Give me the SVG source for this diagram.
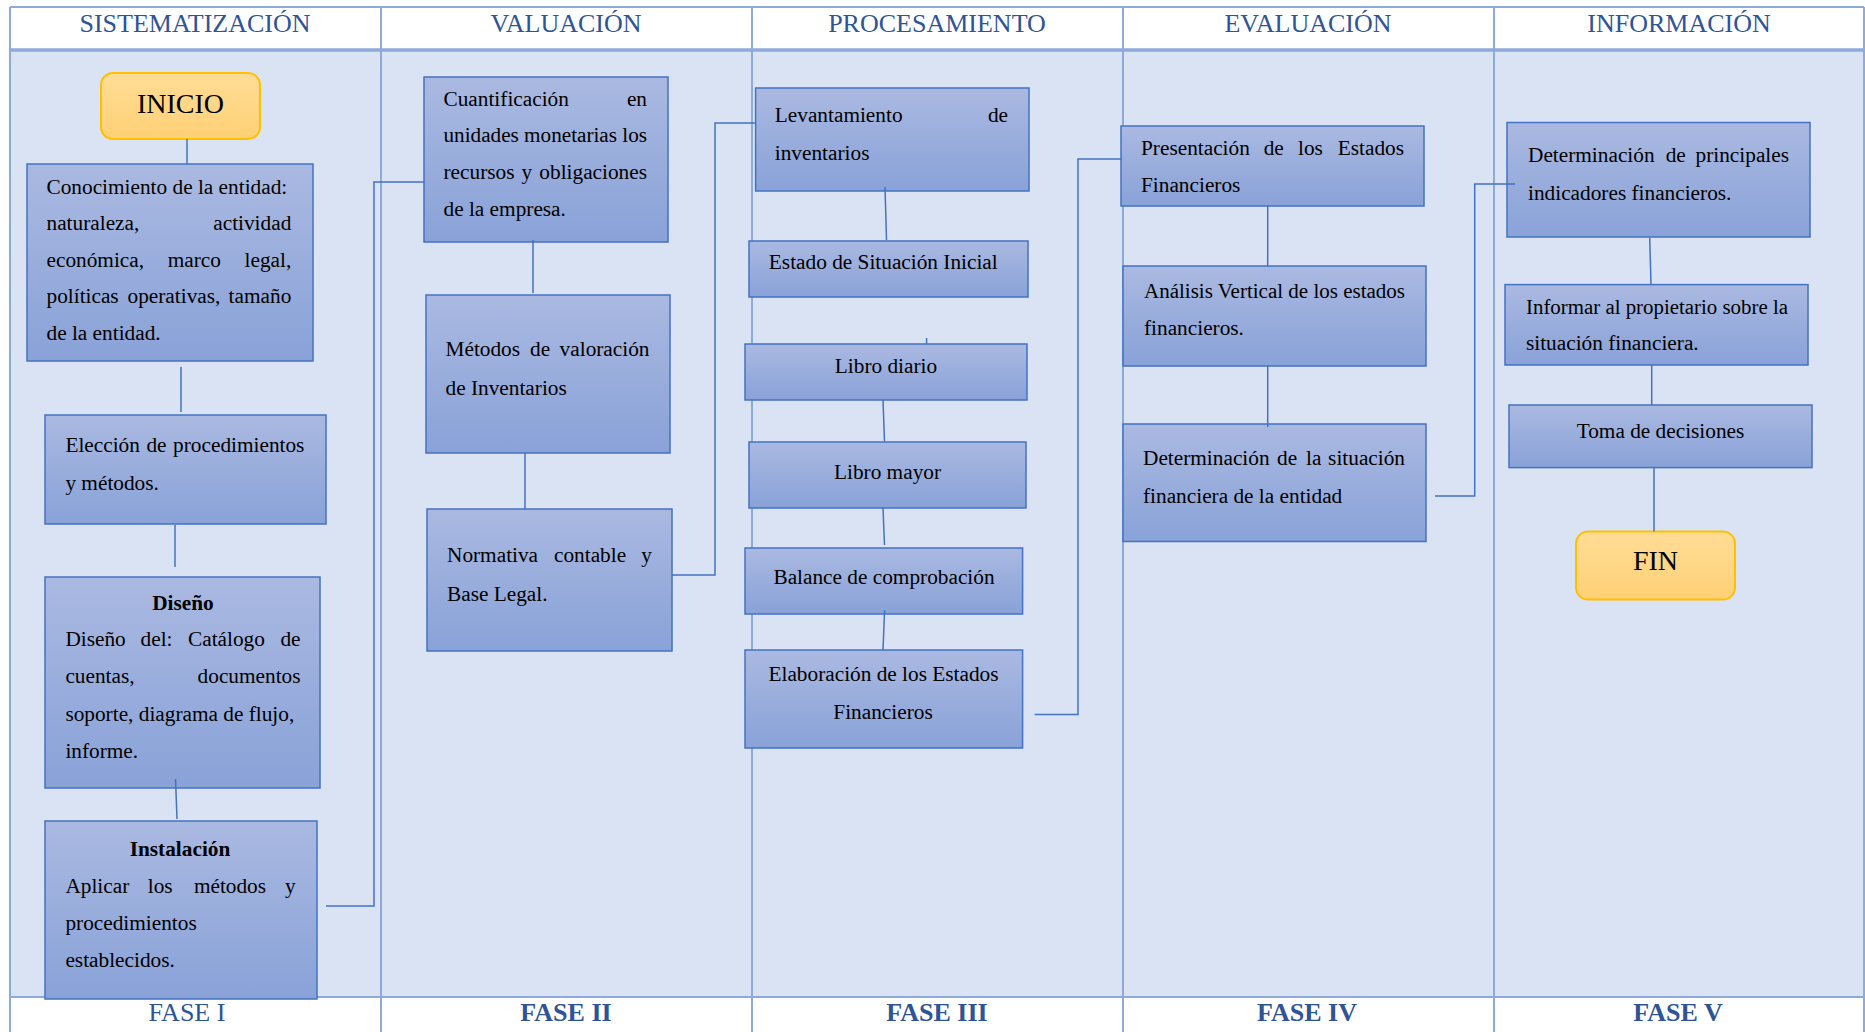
<svg xmlns="http://www.w3.org/2000/svg" width="1865" height="1032" viewBox="0 0 1865 1032">
<defs>
<linearGradient id="gb" x1="0" y1="0" x2="0" y2="1">
<stop offset="0" stop-color="#AAB9E1"/>
<stop offset="1" stop-color="#89A2D8"/>
</linearGradient>
<linearGradient id="gy" x1="0" y1="0" x2="0" y2="1">
<stop offset="0" stop-color="#FFDC96"/>
<stop offset="1" stop-color="#FFD175"/>
</linearGradient>
<style>
.grid{stroke:#8EAADB;stroke-width:2;fill:none}
.hd{font-family:"Liberation Serif","Times New Roman",serif;font-size:26px;fill:#2F5496;text-anchor:middle}
.ft{font-family:"Liberation Serif","Times New Roman",serif;font-size:26px;fill:#2F5496;text-anchor:middle;font-weight:bold}
.box{fill:url(#gb);stroke:#4472C4;stroke-width:1.5}
.term{fill:url(#gy);stroke:#FFC000;stroke-width:2}
.t{font-family:"Liberation Serif","Times New Roman",serif;font-size:21.3px;fill:#000}
.e{text-anchor:end}
.m{text-anchor:middle}
.b{font-weight:bold}
.big{font-family:"Liberation Serif","Times New Roman",serif;font-size:28px;fill:#000;text-anchor:middle}
.c{stroke:#4472C4;stroke-width:1.5;fill:none}
</style>
</defs>
<rect width="1865" height="1032" fill="#FFFFFF"/>
<g id="table">
<rect x="10" y="50" width="1854" height="947" fill="#DAE3F3"/>
<path class="grid" d="M10,7 H1864 M10,7 V1032 M1864,7 V1032 M381,7 V1032 M752,7 V1032 M1123,7 V1032 M1494,7 V1032 M10,997 H1864"/>
<path d="M10,50 H1864" stroke="#8EAADB" stroke-width="3.5"/>
<text class="hd" x="195" y="32">SISTEMATIZACIÓN</text>
<text class="hd" x="566" y="32">VALUACIÓN</text>
<text class="hd" x="937" y="32">PROCESAMIENTO</text>
<text class="hd" x="1308" y="32">EVALUACIÓN</text>
<text class="hd" x="1679" y="32">INFORMACIÓN</text>
<text class="hd" x="187" y="1021">FASE I</text>
<text class="ft" x="566" y="1021">FASE II</text>
<text class="ft" x="937" y="1021">FASE III</text>
<text class="ft" x="1307" y="1021">FASE IV</text>
<text class="ft" x="1678" y="1021">FASE V</text>
</g>
<g id="n-inicio">
<rect class="term" x="101" y="73" width="159" height="66" rx="12"/>
<text class="big" x="180.5" y="113">INICIO</text>
</g>
<g id="n-conocimiento">
<rect class="box" x="27" y="164" width="286" height="197"/>
<text class="t" x="46.5" y="194">Conocimiento de la entidad:</text>
<text class="t" x="46.5" y="230">naturaleza,</text><text class="t e" x="291.3" y="230">actividad</text>
<text class="t" x="46.5" y="267">económica,</text><text class="t" x="167.7" y="267">marco</text><text class="t e" x="291.3" y="267">legal,</text>
<text class="t" x="46.5" y="303">políticas</text><text class="t" x="127.5" y="303">operativas,</text><text class="t e" x="291.3" y="303">tamaño</text>
<text class="t" x="46.5" y="340">de la entidad.</text>
</g>
<g id="n-eleccion">
<rect class="box" x="45" y="415" width="281" height="109"/>
<text class="t" x="65.4" y="452.4">Elección</text><text class="t" x="146.4" y="452.4">de</text><text class="t e" x="304.4" y="452.4">procedimientos</text>
<text class="t" x="65.4" y="489.5">y métodos.</text>
</g>
<g id="n-diseno">
<rect class="box" x="45" y="577" width="275" height="211"/>
<text class="t b m" x="183" y="610">Diseño</text>
<text class="t" x="65.4" y="646">Diseño</text><text class="t" x="140.6" y="646">del:</text><text class="t" x="188" y="646">Catálogo</text><text class="t e" x="300.5" y="646">de</text>
<text class="t" x="65.4" y="682.5">cuentas,</text><text class="t e" x="300.5" y="682.5">documentos</text>
<text class="t" x="65.4" y="720.5">soporte, diagrama de flujo,</text>
<text class="t" x="65.4" y="757.5">informe.</text>
</g>
<g id="n-instalacion">
<rect class="box" x="45" y="821" width="272" height="178"/>
<text class="t b m" x="180" y="856">Instalación</text>
<text class="t" x="65.4" y="893">Aplicar</text><text class="t" x="147.8" y="893">los</text><text class="t" x="193.9" y="893">métodos</text><text class="t e" x="295.7" y="893">y</text>
<text class="t" x="65.4" y="929.5">procedimientos</text>
<text class="t" x="65.4" y="966.5">establecidos.</text>
</g>
<g id="n-cuantificacion">
<rect class="box" x="424" y="77" width="244" height="165"/>
<text class="t" x="443.5" y="106">Cuantificación</text><text class="t e" x="647" y="106">en</text>
<text class="t" x="443.5" y="141.7" textLength="203.5" lengthAdjust="spacingAndGlyphs">unidades monetarias los</text>
<text class="t" x="443.5" y="178.5">recursos</text><text class="t" x="521.6" y="178.5">y</text><text class="t e" x="647" y="178.5">obligaciones</text>
<text class="t" x="443.5" y="215.5">de la empresa.</text>
</g>
<g id="n-metodos">
<rect class="box" x="426" y="295" width="244" height="158"/>
<text class="t" x="445.5" y="356">Métodos</text><text class="t" x="530" y="356">de</text><text class="t e" x="649.5" y="356">valoración</text>
<text class="t" x="445.5" y="395">de Inventarios</text>
</g>
<g id="n-normativa">
<rect class="box" x="427" y="509" width="245" height="142"/>
<text class="t" x="447" y="561.5">Normativa</text><text class="t" x="554" y="561.5">contable</text><text class="t e" x="652" y="561.5">y</text>
<text class="t" x="447" y="600.5">Base Legal.</text>
</g>
<g id="n-levantamiento">
<rect class="box" x="755.6" y="88" width="273.4" height="103"/>
<text class="t" x="774.8" y="122">Levantamiento</text><text class="t e" x="1008" y="122">de</text>
<text class="t" x="774.8" y="160">inventarios</text>
</g>
<g id="n-estado">
<rect class="box" x="749" y="241" width="279" height="56"/>
<text class="t m" x="883.3" y="268.5">Estado de Situación Inicial</text>
</g>
<g id="n-diario">
<rect class="box" x="745" y="344" width="282" height="56"/>
<text class="t m" x="886" y="373">Libro diario</text>
</g>
<g id="n-mayor">
<rect class="box" x="749" y="442" width="277" height="66"/>
<text class="t m" x="887.5" y="478.5">Libro mayor</text>
</g>
<g id="n-balance">
<rect class="box" x="745" y="548" width="277.6" height="66"/>
<text class="t m" x="884" y="583.5">Balance de comprobación</text>
</g>
<g id="n-elaboracion">
<rect class="box" x="745" y="650" width="277.6" height="98"/>
<text class="t m" x="883.5" y="681">Elaboración de los Estados</text>
<text class="t m" x="883" y="718.5">Financieros</text>
</g>
<g id="n-presentacion">
<rect class="box" x="1121" y="126" width="303" height="80"/>
<text class="t" x="1141" y="155">Presentación</text><text class="t" x="1263.7" y="155">de</text><text class="t" x="1298" y="155">los</text><text class="t e" x="1404" y="155">Estados</text>
<text class="t" x="1141" y="192">Financieros</text>
</g>
<g id="n-analisis">
<rect class="box" x="1123" y="266" width="303" height="100"/>
<text class="t" x="1144" y="298" textLength="261" lengthAdjust="spacingAndGlyphs">Análisis Vertical de los estados</text>
<text class="t" x="1144" y="335">financieros.</text>
</g>
<g id="n-determinacion">
<rect class="box" x="1123" y="424" width="303" height="117.5"/>
<text class="t" x="1143" y="464.5">Determinación</text><text class="t" x="1277" y="464.5">de</text><text class="t" x="1306" y="464.5">la</text><text class="t e" x="1405" y="464.5">situación</text>
<text class="t" x="1143" y="503">financiera de la entidad</text>
</g>
<g id="n-indicadores">
<rect class="box" x="1507" y="122.5" width="303" height="114.5"/>
<text class="t" x="1528" y="162">Determinación</text><text class="t" x="1665.7" y="162">de</text><text class="t e" x="1789" y="162">principales</text>
<text class="t" x="1528" y="199.5">indicadores financieros.</text>
</g>
<g id="n-informar">
<rect class="box" x="1505" y="284.6" width="303" height="80.4"/>
<text class="t" x="1526" y="314" textLength="262" lengthAdjust="spacingAndGlyphs">Informar al propietario sobre la</text>
<text class="t" x="1526" y="350">situación financiera.</text>
</g>
<g id="n-toma">
<rect class="box" x="1509" y="405" width="303" height="62.6"/>
<text class="t m" x="1660.5" y="437.5">Toma de decisiones</text>
</g>
<g id="n-fin">
<rect class="term" x="1576" y="531.6" width="159" height="68" rx="12"/>
<text class="big" x="1655.5" y="570">FIN</text>
</g>
<g id="connectors">
<path class="c" d="M187,139 V164"/>
<path class="c" d="M181,367 V412"/>
<path class="c" d="M175,525 V567"/>
<path class="c" d="M175.5,779 L177,819"/>
<path class="c" d="M326,906 H374 V182 H424"/>
<path class="c" d="M533,240 V293"/>
<path class="c" d="M525,453 V509"/>
<path class="c" d="M672,575 H715 V123 H756"/>
<path class="c" d="M885,187 L886.5,240"/>
<path class="c" d="M926.6,338 V344"/>
<path class="c" d="M883,400 L884.5,441.5"/>
<path class="c" d="M883,508 L884.5,545"/>
<path class="c" d="M884.6,610 L883,650"/>
<path class="c" d="M1034.6,714.5 H1078 V159 H1121.7"/>
<path class="c" d="M1267.7,206 V266"/>
<path class="c" d="M1267.7,366 V427"/>
<path class="c" d="M1435,496 H1474.7 V184 H1515"/>
<path class="c" d="M1649.7,238 L1651,284"/>
<path class="c" d="M1651.7,365 V405"/>
<path class="c" d="M1654,467.6 V531.6"/>
</g>
</svg>
